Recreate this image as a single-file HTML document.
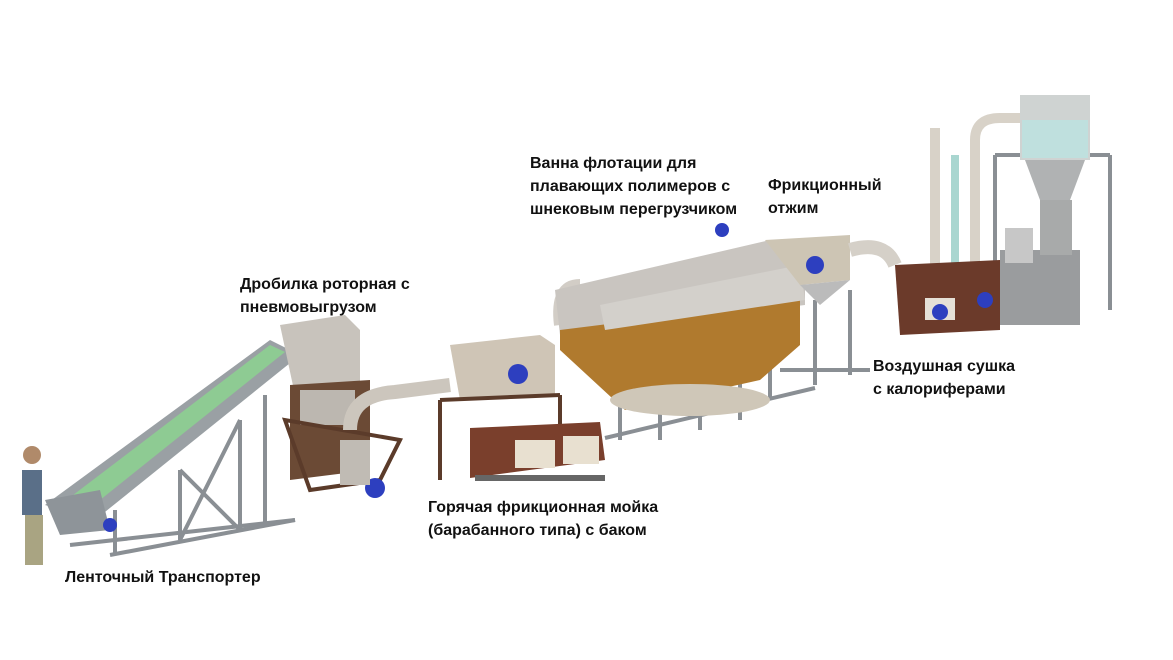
<!DOCTYPE html>
<html><head><meta charset="utf-8"><style>
body{margin:0;background:#fff;width:1173px;height:660px;overflow:hidden;position:relative;font-family:"Liberation Sans","Noto Sans CJK SC",sans-serif}
svg{position:absolute;left:0;top:0}
.t{position:absolute;font-weight:bold;font-size:16px;line-height:23px;color:#111;white-space:nowrap}
</style></head><body>
<svg width="1173" height="660" viewBox="0 0 1173 660">
<g fill="none" stroke="#8a8f94" stroke-width="4">
<line x1="70" y1="545" x2="295" y2="520"/><line x1="110" y1="555" x2="295" y2="520"/>
<line x1="115" y1="510" x2="115" y2="555"/><line x1="180" y1="470" x2="180" y2="540"/>
<line x1="240" y1="420" x2="240" y2="530"/><line x1="265" y1="395" x2="265" y2="525"/>
<line x1="180" y1="470" x2="240" y2="530"/><line x1="240" y1="420" x2="180" y2="540"/>
<line x1="620" y1="330" x2="620" y2="440"/><line x1="660" y1="320" x2="660" y2="440"/>
<line x1="700" y1="310" x2="700" y2="430"/><line x1="740" y1="300" x2="740" y2="420"/>
<line x1="770" y1="290" x2="770" y2="400"/><line x1="605" y1="438" x2="815" y2="388"/>
<line x1="815" y1="300" x2="815" y2="385"/><line x1="850" y1="290" x2="850" y2="375"/>
<line x1="780" y1="370" x2="870" y2="370" />
<line x1="995" y1="155" x2="995" y2="320"/><line x1="1110" y1="155" x2="1110" y2="310"/>
<line x1="995" y1="155" x2="1110" y2="155"/>
</g>
<rect x="22" y="470" width="20" height="45" fill="#5a6f88"/>
<circle cx="32" cy="455" r="9" fill="#b08a6a"/>
<rect x="25" y="515" width="18" height="50" fill="#a9a482"/>
<polygon points="45,505 270,340 300,355 95,520" fill="#9aa0a4"/>
<polygon points="60,505 270,345 285,352 85,512" fill="#8ecb93"/>
<polygon points="45,500 100,490 110,530 60,535" fill="#8e9499"/>
<circle cx="110" cy="525" r="7" fill="#2d3fbf"/>
<polygon points="280,325 345,315 360,330 360,390 295,395" fill="#c8c3bc"/>
<polygon points="290,385 370,380 370,470 290,480" fill="#6b4a35"/>
<rect x="300" y="390" width="55" height="35" fill="#bcb7b0"/>
<polygon points="285,420 310,490 380,480 400,440" fill="none" stroke="#5b3b2a" stroke-width="4"/>
<circle cx="375" cy="488" r="10" fill="#2d3fbf"/>
<rect x="340" y="440" width="30" height="45" fill="#c0bbb4"/>
<path d="M350 430 Q350 395 395 392 L450 385" fill="none" stroke="#ccc6bd" stroke-width="14"/>
<polygon points="450,345 540,335 555,345 555,395 460,400" fill="#cfc5b6"/>
<circle cx="518" cy="374" r="10" fill="#2d3fbf"/>
<g fill="none" stroke="#5b3b2a" stroke-width="4">
<line x1="440" y1="400" x2="560" y2="395"/><line x1="440" y1="400" x2="440" y2="480"/><line x1="560" y1="395" x2="560" y2="430"/>
</g>
<polygon points="470,428 600,422 605,460 470,478" fill="#7a3f2c"/>
<rect x="515" y="440" width="40" height="28" fill="#e8e0d0"/><rect x="563" y="436" width="36" height="28" fill="#e8e0d0"/>
<rect x="475" y="475" width="130" height="6" fill="#666"/>
<path d="M560 325 Q555 285 580 285" fill="none" stroke="#d2cdc6" stroke-width="12"/>
<polygon points="555,290 770,240 805,250 805,305 560,335" fill="#c9c5c0"/>
<polygon points="560,330 800,300 800,345 760,380 625,410 560,350" fill="#b07a2e"/>
<polygon points="600,305 800,265 805,300 605,330" fill="#d3d0cb"/>
<ellipse cx="690" cy="400" rx="80" ry="16" fill="#cfc7b8"/>
<circle cx="722" cy="230" r="7" fill="#2d3fbf"/>
<polygon points="765,240 850,235 850,280 800,285" fill="#cdc5b4"/>
<circle cx="815" cy="265" r="9" fill="#2d3fbf"/>
<polygon points="800,285 850,280 820,305" fill="#bbb"/>
<path d="M850 250 Q885 240 895 265" fill="none" stroke="#d5d0c8" stroke-width="14"/>
<path d="M935 265 L935 128 M975 265 L975 140 Q975 118 1000 118 L1040 118" fill="none" stroke="#d8d2c8" stroke-width="10"/>
<path d="M955 300 L955 155" fill="none" stroke="#a9d6d0" stroke-width="8"/>
<polygon points="895,265 1000,260 1000,330 900,335" fill="#6b3a2a"/>
<rect x="925" y="298" width="30" height="22" fill="#e5e0d7"/><circle cx="940" cy="312" r="8" fill="#2d3fbf"/>
<circle cx="985" cy="300" r="8" fill="#2d3fbf"/>
<rect x="1000" y="250" width="80" height="75" fill="#9a9c9e"/>
<rect x="1005" y="228" width="28" height="35" fill="#c7c7c7"/>
<rect x="1020" y="95" width="70" height="65" fill="#cfd3d2"/>
<rect x="1022" y="120" width="66" height="38" fill="#bfe0de"/>
<polygon points="1025,160 1085,160 1070,200 1040,200" fill="#b0b2b3"/>
<rect x="1040" y="200" width="32" height="55" fill="#a8aaaa"/>
</svg>
<div class="t" style="left:65px;top:566px">Ленточный Транспортер</div>
<div class="t" style="left:240px;top:273px">Дробилка роторная с<br>пневмовыгрузом</div>
<div class="t" style="left:428px;top:496px">Горячая фрикционная мойка<br>(барабанного типа) с баком</div>
<div class="t" style="left:530px;top:152px">Ванна флотации для<br>плавающих полимеров с<br>шнековым перегрузчиком</div>
<div class="t" style="left:768px;top:174px">Фрикционный<br>отжим</div>
<div class="t" style="left:873px;top:355px">Воздушная сушка<br>с калориферами</div>
</body></html>
